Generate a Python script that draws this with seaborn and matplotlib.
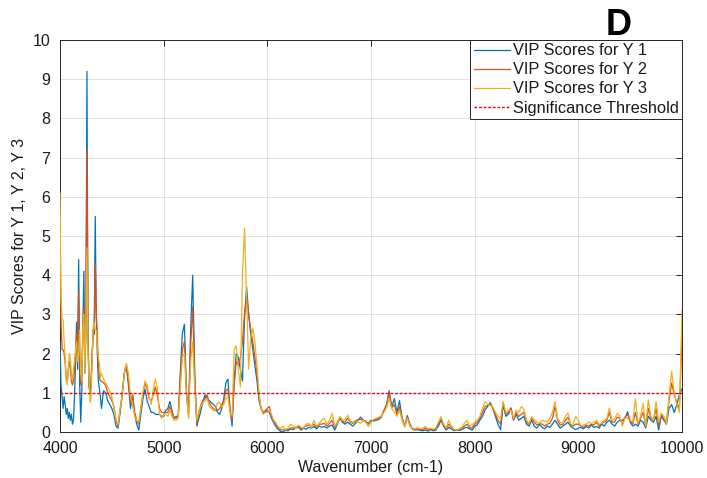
import numpy as np
import pandas as pd
import matplotlib
matplotlib.use("Agg")
import matplotlib.pyplot as plt
from matplotlib.lines import Line2D
import seaborn as sns

# Wavenumber grids (cm-1): fine sampling in the sharp low-wavenumber band,
# coarser over the flat high-wavenumber part of the spectrum.
wn_low = np.arange(4000, 4400, 10)
wn_mid = np.arange(4400, 6100, 20)
wn_high = np.arange(6100, 10001, 25)

# VIP scores for response Y 1
vip_y1_low = [2.3, 1.2, 0.9, 0.6, 0.9, 0.7, 0.45, 0.6, 0.35, 0.5,
              0.3, 0.45, 0.2, 0.3, 0.9, 1.8, 2.8, 1.6, 4.4, 1.2,
              0.25, 1.0, 2.5, 4.1, 1.5, 2.5, 9.2, 2.5, 1.15, 1.0,
              1.3, 2.0, 2.6, 2.5, 5.5, 2.9, 2.0, 1.3, 1.1, 0.9]
vip_y1_mid = [0.6, 1.05, 1.0, 0.8, 0.7, 0.6, 0.45, 0.15, 0.1, 0.5,
              1.0, 1.5, 1.7, 1.2, 0.6, 0.95, 0.45, 0.2, 0.05, 0.45,
              0.85, 1.1, 0.8, 0.65, 0.5, 0.5, 0.45, 0.45, 0.45, 0.4,
              0.4, 0.55, 0.6, 0.78, 0.55, 0.35, 0.4, 0.4, 1.5, 2.5,
              2.75, 1.0, 0.5, 2.6, 4.0, 1.5, 0.15, 0.35, 0.55, 0.8,
              0.95, 0.85, 0.8, 0.75, 0.7, 0.65, 0.5, 0.45, 0.6, 0.85,
              1.25, 1.35, 0.6, 0.15, 1.3, 2.0, 1.9, 1.6, 1.3, 2.9,
              3.7, 3.0, 2.5, 2.1, 1.7, 1.3, 0.8, 0.6, 0.5, 0.5,
              0.55, 0.5, 0.35, 0.25, 0.15]
vip_y1_high = [0.08, 0.02, 0.0, 0.04, 0.03, 0.08, 0.06, 0.1, 0.12, 0.05, 0.1, 0.07, 0.12, 0.1, 0.14, 0.08,
               0.15, 0.12, 0.14, 0.1, 0.15, 0.18, 0.05, 0.2, 0.35, 0.25, 0.2, 0.25, 0.2, 0.15, 0.22, 0.3,
               0.38, 0.3, 0.25, 0.22, 0.3, 0.28, 0.3, 0.32, 0.38, 0.55, 0.7, 1.05, 0.65, 0.85, 0.5, 0.8,
               0.35, 0.15, 0.42, 0.2, 0.08, 0.05, 0.06, 0.04, 0.03, 0.05, 0.02, 0.06, 0.03, 0.05, 0.15, 0.3,
               0.15, 0.05, 0.12, 0.08, 0.03, 0.05, 0.04, 0.06, 0.1, 0.12, 0.08, 0.05, 0.15, 0.18, 0.3, 0.4,
               0.56, 0.65, 0.75, 0.6, 0.4, 0.2, 0.06, 0.7, 0.4, 0.45, 0.6, 0.3, 0.45, 0.3, 0.35, 0.4,
               0.2, 0.15, 0.3, 0.15, 0.1, 0.2, 0.12, 0.08, 0.15, 0.12, 0.2, 0.3, 0.2, 0.1, 0.15, 0.2,
               0.25, 0.15, 0.1, 0.06, 0.1, 0.12, 0.08, 0.14, 0.1, 0.18, 0.12, 0.14, 0.1, 0.2, 0.15, 0.25,
               0.3, 0.2, 0.15, 0.25, 0.3, 0.3, 0.35, 0.52, 0.25, 0.15, 0.2, 0.15, 0.3, 0.25, 0.1, 0.4,
               0.3, 0.25, 0.4, 0.05, 0.4, 0.3, 0.2, 0.6, 0.7, 0.5, 0.7, 0.95, 1.1]

# VIP scores for response Y 2
vip_y2_low = [5.2, 2.8, 2.1, 2.1, 2.0, 1.75, 1.4, 1.25, 1.6, 1.8,
              1.6, 1.3, 1.2, 1.3, 1.6, 2.0, 2.5, 2.2, 3.6, 1.8,
              1.2, 1.5, 2.4, 3.2, 2.0, 3.5, 7.2, 2.5, 1.2, 1.1,
              1.2, 2.0, 2.4, 2.6, 4.3, 3.0, 2.5, 1.7, 1.4, 1.3]
vip_y2_mid = [1.3, 1.25, 1.2, 1.0, 0.9, 0.8, 0.65, 0.3, 0.15, 0.55,
              0.9, 1.5, 1.7, 1.3, 0.75, 0.95, 0.5, 0.3, 0.2, 0.6,
              1.0, 1.25, 1.1, 0.85, 0.8, 0.95, 1.15, 0.9, 0.6, 0.5,
              0.5, 0.5, 0.5, 0.65, 0.5, 0.35, 0.35, 0.4, 1.3, 2.1,
              2.3, 1.0, 0.4, 2.2, 3.2, 1.3, 0.2, 0.5, 0.7, 0.8,
              0.85, 0.95, 0.75, 0.65, 0.6, 0.55, 0.55, 0.6, 0.7, 0.8,
              1.05, 1.1, 0.55, 0.3, 1.2, 1.8, 1.7, 1.9, 2.3, 3.0,
              3.45, 3.0, 2.6, 2.3, 1.9, 1.5, 0.9, 0.6, 0.5, 0.55,
              0.6, 0.65, 0.4, 0.3, 0.2]
vip_y2_high = [0.12, 0.06, 0.05, 0.07, 0.06, 0.1, 0.1, 0.12, 0.15, 0.08, 0.12, 0.15, 0.18, 0.15, 0.2, 0.12,
               0.2, 0.2, 0.22, 0.15, 0.22, 0.3, 0.12, 0.25, 0.35, 0.28, 0.25, 0.35, 0.25, 0.22, 0.28, 0.32,
               0.32, 0.3, 0.28, 0.2, 0.28, 0.3, 0.32, 0.35, 0.4, 0.55, 0.68, 0.99, 0.62, 0.7, 0.45, 0.65,
               0.35, 0.15, 0.38, 0.18, 0.08, 0.06, 0.08, 0.06, 0.06, 0.1, 0.05, 0.08, 0.06, 0.08, 0.2, 0.35,
               0.18, 0.08, 0.2, 0.12, 0.05, 0.06, 0.06, 0.1, 0.15, 0.2, 0.12, 0.1, 0.2, 0.25, 0.35, 0.5,
               0.65, 0.68, 0.72, 0.62, 0.45, 0.3, 0.2, 0.75, 0.45, 0.5, 0.62, 0.32, 0.5, 0.4, 0.45, 0.5,
               0.25, 0.2, 0.35, 0.25, 0.18, 0.22, 0.2, 0.15, 0.2, 0.22, 0.35, 0.65, 0.3, 0.18, 0.2, 0.3,
               0.38, 0.2, 0.15, 0.2, 0.2, 0.15, 0.12, 0.18, 0.15, 0.2, 0.18, 0.25, 0.15, 0.22, 0.25, 0.3,
               0.5, 0.25, 0.25, 0.38, 0.35, 0.2, 0.38, 0.45, 0.3, 0.2, 0.5, 0.2, 0.35, 0.5, 0.15, 0.6,
               0.35, 0.3, 0.6, 0.15, 0.45, 0.35, 0.25, 0.8, 1.25, 0.95, 0.75, 0.6, 2.45]

# VIP scores for response Y 3
vip_y3_low = [6.1, 3.4, 2.9, 2.85, 2.3, 1.9, 1.3, 1.2, 1.6, 2.0,
              1.9, 1.5, 1.3, 1.6, 1.8, 2.1, 2.3, 1.8, 2.0, 2.6,
              1.5, 1.3, 2.6, 3.0, 1.5, 3.0, 4.7, 2.0, 1.4, 0.75,
              0.9, 1.8, 2.7, 2.8, 2.6, 2.6, 2.2, 1.9, 1.75, 1.4]
vip_y3_mid = [1.5, 1.35, 1.25, 1.15, 1.05, 0.9, 0.6, 0.3, 0.2, 0.6,
              0.95, 1.5, 1.75, 1.5, 0.9, 0.7, 0.4, 0.3, 0.25, 0.6,
              1.0, 1.3, 1.2, 0.9, 0.7, 1.1, 1.35, 1.1, 0.45, 0.35,
              0.45, 0.45, 0.4, 0.55, 0.4, 0.3, 0.3, 0.35, 1.1, 1.9,
              2.0, 1.0, 0.35, 1.8, 2.3, 1.1, 0.3, 0.55, 0.65, 0.75,
              0.8, 0.85, 0.65, 0.6, 0.55, 0.6, 0.75, 0.75, 0.65, 0.7,
              0.85, 0.9, 0.5, 0.4, 2.1, 2.2, 1.6, 1.15, 4.0, 5.2,
              3.4, 1.6, 2.4, 2.65, 2.3, 1.7, 1.0, 0.6, 0.45, 0.5,
              0.5, 0.55, 0.45, 0.3, 0.25]
vip_y3_high = [0.15, 0.08, 0.15, 0.05, 0.1, 0.2, 0.15, 0.08, 0.18, 0.12, 0.1, 0.2, 0.22, 0.12, 0.3, 0.15,
               0.22, 0.3, 0.35, 0.2, 0.3, 0.48, 0.15, 0.22, 0.4, 0.3, 0.32, 0.43, 0.28, 0.25, 0.3, 0.25,
               0.22, 0.3, 0.25, 0.14, 0.25, 0.32, 0.35, 0.38, 0.4, 0.5, 0.62, 0.86, 0.6, 0.5, 0.4, 0.55,
               0.3, 0.12, 0.35, 0.15, 0.1, 0.08, 0.12, 0.08, 0.1, 0.14, 0.08, 0.1, 0.07, 0.1, 0.25, 0.39,
               0.2, 0.1, 0.3, 0.15, 0.07, 0.05, 0.08, 0.12, 0.22, 0.3, 0.15, 0.18, 0.25, 0.3, 0.4, 0.6,
               0.77, 0.7, 0.68, 0.64, 0.5, 0.4, 0.35, 0.78, 0.5, 0.55, 0.55, 0.35, 0.56, 0.5, 0.65, 0.58,
               0.3, 0.22, 0.39, 0.32, 0.25, 0.22, 0.3, 0.28, 0.25, 0.35, 0.5, 0.78, 0.35, 0.25, 0.22, 0.4,
               0.48, 0.2, 0.2, 0.4, 0.3, 0.15, 0.18, 0.2, 0.25, 0.22, 0.25, 0.3, 0.2, 0.22, 0.3, 0.35,
               0.61, 0.3, 0.32, 0.48, 0.4, 0.15, 0.35, 0.35, 0.3, 0.25, 0.84, 0.22, 0.4, 0.73, 0.15, 0.82,
               0.4, 0.3, 0.78, 0.25, 0.48, 0.4, 0.22, 0.91, 1.55, 1.0, 0.7, 0.5, 3.1]

threshold = 1.0

series_labels = ["VIP Scores for Y 1", "VIP Scores for Y 2", "VIP Scores for Y 3"]
threshold_label = "Significance Threshold"
line_colors = ["#0072BD", "#D95319", "#EDB120"]
threshold_color = "#ff0000"
threshold_dash = (0, (2.0, 1.3))

x_ticks = [4000, 5000, 6000, 7000, 8000, 9000, 10000]
y_ticks = list(range(0, 11))

# ---- assemble long-form table ----
wavenumber = np.concatenate([wn_low, wn_mid, wn_high])
series_parts = [
    (vip_y1_low, vip_y1_mid, vip_y1_high),
    (vip_y2_low, vip_y2_mid, vip_y2_high),
    (vip_y3_low, vip_y3_mid, vip_y3_high),
]
frames = []
for label, parts in zip(series_labels, series_parts):
    values = np.concatenate([np.asarray(p, dtype=float) for p in parts])
    assert len(values) == len(wavenumber), (label, len(values), len(wavenumber))
    frames.append(pd.DataFrame({"Wavenumber": wavenumber, "VIP": values, "Series": label}))
df = pd.concat(frames, ignore_index=True)

# ---- style ----
sns.set_style("white")
plt.rcParams["font.family"] = ["Liberation Sans", "DejaVu Sans"]
axis_color = "#262626"
text_color = "#1a1a1a"

W, H = 707, 478
fig = plt.figure(figsize=(W / 100, H / 100), dpi=100)
ax = fig.add_axes([60 / W, 1 - 432 / H, 622 / W, 392 / H])

sns.lineplot(data=df, x="Wavenumber", y="VIP", hue="Series", hue_order=series_labels,
             palette=line_colors, linewidth=0.9, estimator=None, sort=False,
             legend=False, ax=ax)
ax.axhline(threshold, color=threshold_color, linewidth=1.0,
           linestyle=threshold_dash, zorder=5)

ax.set_xlim(x_ticks[0], x_ticks[-1])
ax.set_ylim(y_ticks[0], y_ticks[-1])
ax.set_xticks(x_ticks)
ax.set_yticks(y_ticks)
ax.grid(True, color="#dedede", linewidth=0.7)
ax.set_axisbelow(True)
for side in ["left", "right", "top", "bottom"]:
    ax.spines[side].set_visible(True)
    ax.spines[side].set_color(axis_color)
    ax.spines[side].set_linewidth(0.7)
    ax.spines[side].set_zorder(1.5)
ax.tick_params(direction="in", length=4, width=0.7, color=axis_color,
               top=True, right=True, labelsize=11.5, labelcolor=text_color)
ax.tick_params(axis="x", pad=6.5)
ax.tick_params(axis="y", pad=7)

ax.set_xlabel("Wavenumber (cm-1)", fontsize=11.5, color=text_color, labelpad=3)
ax.set_ylabel("VIP Scores for Y 1, Y 2, Y 3", fontsize=11.5, color=text_color, labelpad=4)

handles = [Line2D([], [], color=c, linewidth=0.9) for c in line_colors]
handles.append(Line2D([], [], color=threshold_color, linewidth=1.0, linestyle=threshold_dash))
leg = ax.legend(handles, series_labels + [threshold_label], loc="upper right",
                bbox_to_anchor=(1, 1), borderaxespad=0, fontsize=11.8,
                handlelength=2.2, handletextpad=0.2, borderpad=0.2,
                labelspacing=0.25, fancybox=False, framealpha=1)
leg.get_frame().set_edgecolor(axis_color)
leg.get_frame().set_linewidth(0.7)
for t in leg.get_texts():
    t.set_color(text_color)

fig.text(619 / W, 1 - 35 / H, "D", fontsize=26, fontweight="bold",
         ha="center", va="baseline", color="black")

fig.savefig("out.png", dpi=100)
